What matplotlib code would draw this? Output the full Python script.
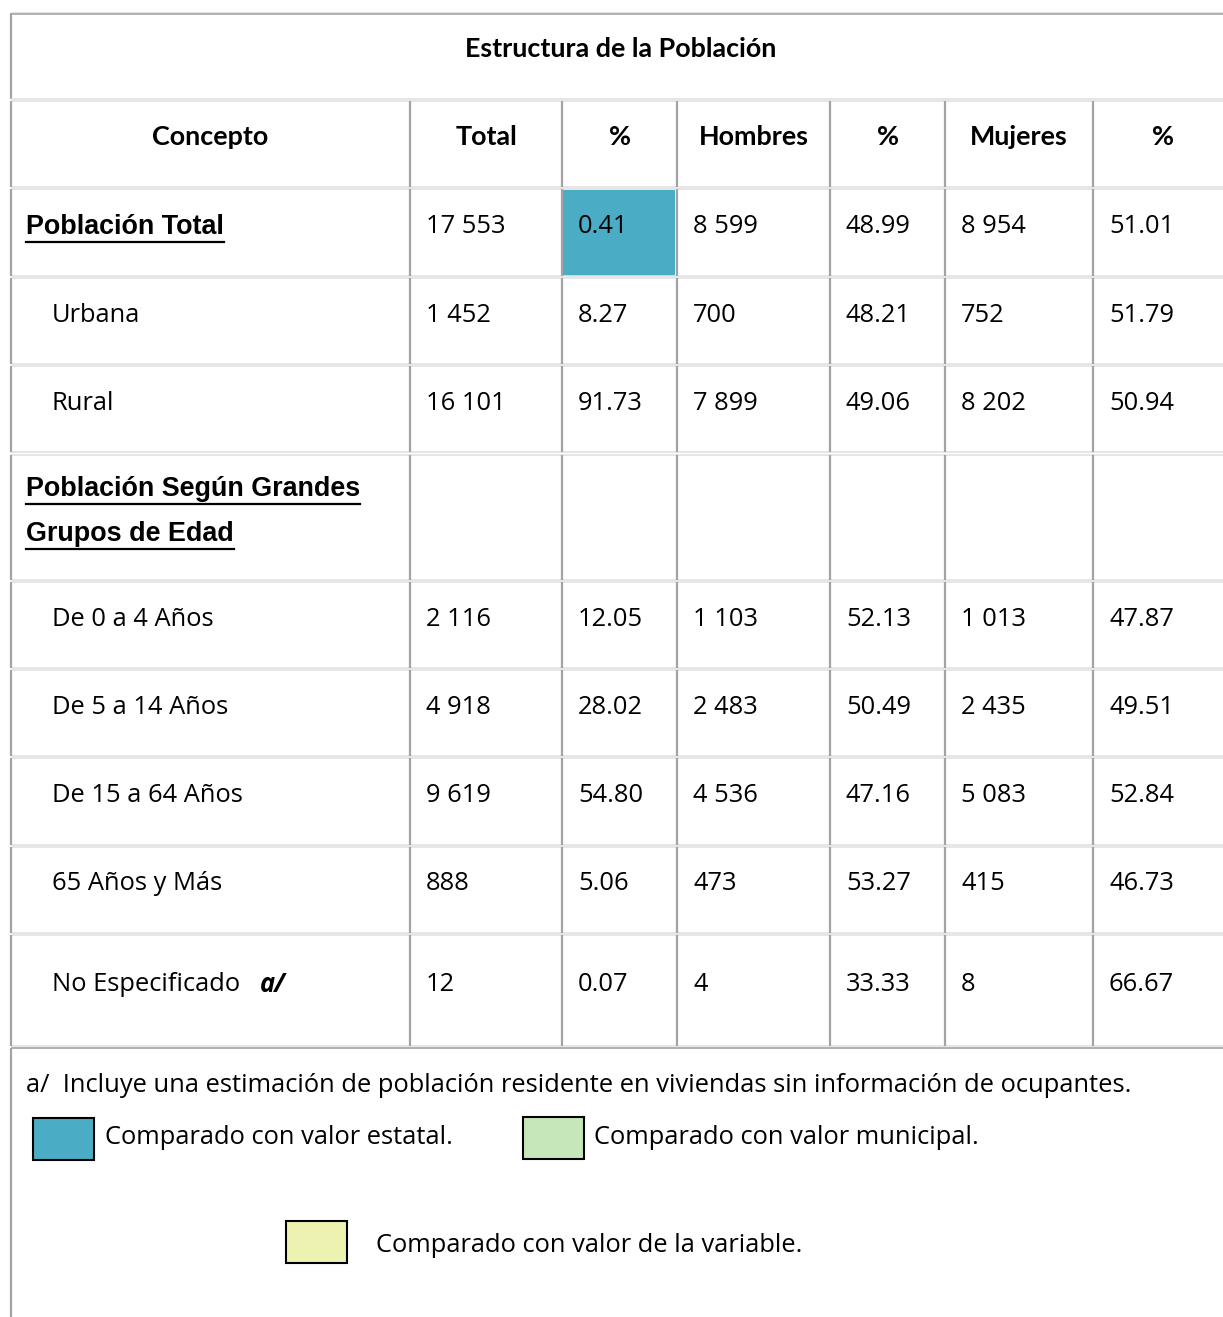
import matplotlib
matplotlib.use("Agg")
import matplotlib.pyplot as plt
from matplotlib.patches import Rectangle

# Table data
titulo = "Estructura de la Población"
encabezados = ["Concepto", "Total", "%", "Hombres", "%", "Mujeres", "%"]
conceptos = ["Población Total", "Urbana", "Rural", "Población Según Grandes\nGrupos de Edad",
             "De 0 a 4 Años", "De 5 a 14 Años", "De 15 a 64 Años", "65 Años y Más", "No Especificado"]
es_titulo = [True, False, False, True, False, False, False, False, False]
total = [17553, 1452, 16101, None, 2116, 4918, 9619, 888, 12]
pct_total = ["0.41", "8.27", "91.73", "", "12.05", "28.02", "54.80", "5.06", "0.07"]
hombres = [8599, 700, 7899, None, 1103, 2483, 4536, 473, 4]
pct_hombres = ["48.99", "48.21", "49.06", "", "52.13", "50.49", "47.16", "53.27", "33.33"]
mujeres = [8954, 752, 8202, None, 1013, 2435, 5083, 415, 8]
pct_mujeres = ["51.01", "51.79", "50.94", "", "47.87", "49.51", "52.84", "46.73", "66.67"]
nota = "a/  Incluye una estimación de población residente en viviendas sin información de ocupantes."
leyenda = ["Comparado con valor estatal.", "Comparado con valor municipal.", "Comparado con valor de la variable."]
colores_leyenda = ["#4BACC6", "#C6E7B9", "#EEF2B0"]

# Layout (pixels)
W, H = 1223, 1317
col_x = [11, 410, 562, 677, 830, 945, 1093, 1223]
row_y = [(189, 276), (278, 364), (366, 452), (455, 580), (582, 668),
         (670, 756), (758, 845), (847, 933), (935, 1046)]

fig = plt.figure(figsize=(W / 100, H / 100), dpi=100)
ax = fig.add_axes([0, 0, 1, 1])
ax.set_xlim(0, W)
ax.set_ylim(H, 0)
ax.axis("off")

fs = 18.4
body = dict(family="Open Sans", fontsize=fs, color="black", va="center")
head = dict(family="Lato", fontsize=19.4, fontweight="bold", color="black", va="center", ha="center")
dark, light = "#a3a3a3", "#e2e2e2"


def hline(y, x0, x1, c, lw=1.2):
    ax.plot([x0, x1], [y, y], color=c, lw=lw, solid_capstyle="butt")


def vline(x, y0, y1, c=dark, lw=1.6):
    ax.plot([x, x], [y0, y1], color=c, lw=lw, solid_capstyle="butt")


# Title row
hline(12, 11, W, light, 0.8)
hline(14, 11, W, dark)
vline(11, 13, 99)
hline(99, 11, W, light)
ax.text(621, 49, titulo, **head)

# Header row + data rows: cell borders
rows_all = [(101, 187)] + row_y
for (y0, y1) in rows_all:
    hline(y0, 11, W, light)
    hline(y1, 11, W, light)
    for x in col_x[:-1]:
        vline(x, y0, y1)

# Highlighted cell
ax.add_patch(Rectangle((563, 190), 112, 86, facecolor="#4BACC6", edgecolor="none", zorder=0))

# Header texts
for i, h in enumerate(encabezados):
    cx = (col_x[i] + col_x[i + 1]) / 2
    if i == 6:
        cx = 1163
    ax.text(cx, 137, h, **head)


def fmt(v):
    return "" if v is None else f"{v:,}".replace(",", " ")


fig.canvas.draw()
renderer = fig.canvas.get_renderer()

for r, (y0, y1) in enumerate(row_y):
    yc = (y0 + y1) / 2 - 6
    if es_titulo[r]:
        lines = conceptos[r].split("\n")
        n = len(lines)
        for k, ln in enumerate(lines):
            yy = yc + (k - (n - 1) / 2) * 45
            t = ax.text(26, yy, ln, family="Liberation Sans", fontsize=19.4, fontweight="bold",
                        va="center", ha="left")
            bb = t.get_window_extent(renderer)
            x0d, _ = ax.transData.inverted().transform((bb.x0, bb.y0))
            x1d, _ = ax.transData.inverted().transform((bb.x1, bb.y0))
            ax.plot([x0d, x1d], [yy + 15, yy + 15], color="black", lw=1.6)
    else:
        ax.text(52, yc, conceptos[r], ha="left", **body)
        if conceptos[r] == "No Especificado":
            ax.text(260, yc, "a/", family="Open Sans", fontsize=fs, fontweight="bold",
                    style="italic", va="center", ha="left")
    vals = [fmt(total[r]), pct_total[r], fmt(hombres[r]), pct_hombres[r], fmt(mujeres[r]), pct_mujeres[r]]
    for c, v in enumerate(vals):
        ax.text(col_x[c + 1] + 16, yc, v, ha="left", **body)

# Footer
hline(1048, 11, W, dark)
vline(11, 1048, H)
ax.text(26, 1085, nota, ha="left", **body)

box_pos = [(33, 1118), (523, 1117), (286, 1221)]
txt_pos = [(105, 1138), (594, 1138), (376, 1246)]
for (bx, by), (tx, ty), lab, col in zip(box_pos, txt_pos, leyenda, colores_leyenda):
    ax.add_patch(Rectangle((bx, by), 61, 42, facecolor=col, edgecolor="black", lw=1.5))
    ax.text(tx, ty, lab, ha="left", **body)

fig.savefig("out.png", dpi=100)
